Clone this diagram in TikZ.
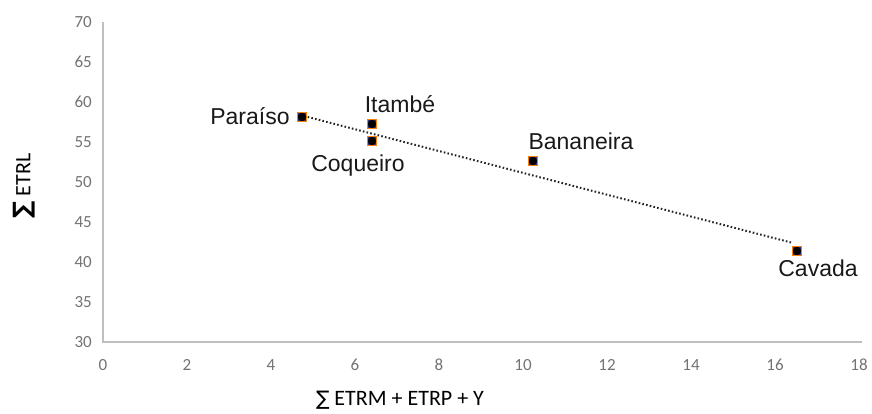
\documentclass[tikz,border=0pt]{standalone}
\usepackage{fontspec}
\setmainfont{Liberation Sans}
\newfontfamily\calib{Carlito}
\newfontfamily\dejav{DejaVu Sans}
\begin{document}
\begin{tikzpicture}[x=1pt,y=-1pt,
  axisline/.style={draw=black!25,line width=1.2pt},
  ticklab/.style={font=\calib\fontsize{17}{17}\selectfont,text=black!55,inner sep=0pt},
  axtitle/.style={font=\calib\fontsize{22}{22}\selectfont,text=black,inner sep=0pt},
  ptlab/.style={font=\fontsize{23}{23}\selectfont,text=black!90,inner sep=0pt},
  marker/.style={rectangle,minimum size=9pt,inner sep=0pt,fill=black!45!blue!60!gray,draw=orange!85!brown,line width=0.9pt,
    path picture={\fill[black] (path picture bounding box.center) circle (4.2pt);}},
  trend/.style={dash pattern=on 1.6pt off 2.2pt,line width=2pt,black!85}]
\useasboundingbox (0,0) rectangle (872,414);
% axes
\coordinate (o) at (103,342);
\coordinate (xe) at (862,342);
\coordinate (ye) at (103,22);
\draw[axisline] (ye) -- (o) -- (xe);
% y tick labels
\foreach \v [count=\i from 0] in {30,35,40,45,50,55,60,65,70}
  \node[ticklab,anchor=east] (yl\v) at (92,342-40*\i) {\v};
% x tick labels
\foreach \v [count=\i from 0] in {0,2,4,6,8,10,12,14,16,18}
  \node[ticklab] (xl\v) at (103+84*\i,365) {\v};
% axis titles
\node[axtitle] (xt) at (400,400) {{\dejav\fontsize{20}{20}\selectfont ∑} ETRM + ETRP + Y};
\node[axtitle,rotate=90] (yt) at (24,186) {{\dejav\bfseries\fontsize{24}{24}\selectfont ∑} ETRL};
% trend line
\coordinate (t1) at (304,116);
\coordinate (t2) at (793,243);
\draw[trend] (t1) -- (t2);
% points
\node[marker] (p1) at (302,117) {};
\node[marker] (p2) at (372,124) {};
\node[marker] (p3) at (372,141) {};
\node[marker] (p4) at (533,161) {};
\node[marker] (p5) at (797,251) {};
% labels
\node[ptlab] (l1) at (250,116) {Paraíso};
\node[ptlab] (l2) at (400,104) {Itambé};
\node[ptlab] (l3) at (358,166) {Coqueiro};
\node[ptlab] (l4) at (581,141) {Bananeira};
\node[ptlab] (l5) at (818,268) {Cavada};
\end{tikzpicture}
\end{document}
